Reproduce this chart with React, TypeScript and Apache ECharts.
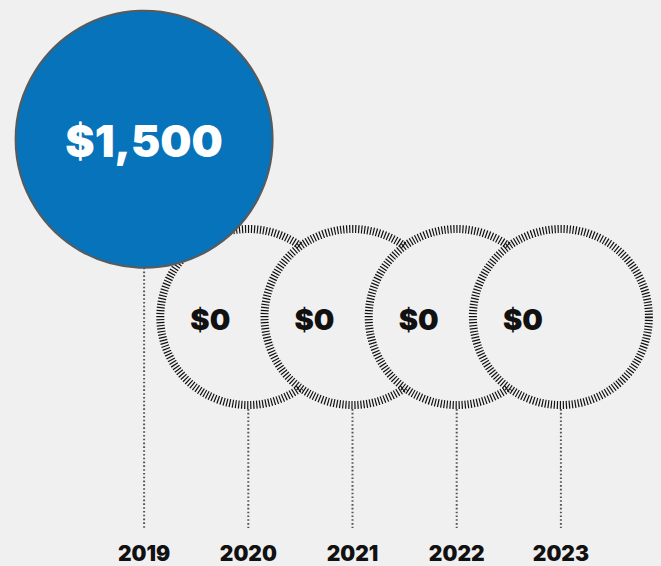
import React, { useEffect, useRef } from "react";
import * as echarts from "echarts";

const years = ["2019", "2020", "2021", "2022", "2023"];
const amounts = [1500, 0, 0, 0, 0];

const Y_MIN = -1780;
const Y_MAX = 2000;
const BG = "#f0f0f0";
const FONT = "Inter";

const sizeFor = (v: number) => (v > 0 ? 257 : 184);
const fmt = (v: number) => "$" + v.toLocaleString("en-US");

export default function App() {
  const ref = useRef<HTMLDivElement>(null);
  useEffect(() => {
    if (!ref.current) return;
    const chart = echarts.init(ref.current, null, { renderer: "svg" });
    chart.setOption({
      animation: false,
      backgroundColor: BG,
      grid: { left: 92, right: 48, top: 80, bottom: 38 },
      xAxis: {
        type: "category",
        data: years,
        boundaryGap: true,
        axisLine: { show: false },
        axisTick: { show: false },
        splitLine: { show: false },
        axisLabel: {
          margin: 15,
          color: "#111",
          fontFamily: FONT,
          fontWeight: 900,
          fontSize: 21,
        },
      },
      yAxis: {
        type: "value",
        min: Y_MIN,
        max: Y_MAX,
        show: false,
        splitLine: { show: false },
      },
      series: [
        {
          type: "custom",
          data: amounts.map((v, i) => [i, v]),
          renderItem: (params: any, api: any) => {
            const idx = api.value(0);
            const v = api.value(1);
            const [cx, cy] = api.coord([idx, v]);
            const base = api.coord([idx, Y_MIN])[1];
            const r = sizeFor(v) / 2;
            const big = v > 0;
            return {
              type: "group",
              children: [
                {
                  type: "line",
                  shape: { x1: cx, y1: cy + r, x2: cx, y2: base },
                  style: { stroke: "#555", lineWidth: 2, lineDash: [1.6, 2.2] },
                },
                {
                  type: "circle",
                  z2: big ? 20 : 2,
                  shape: { cx, cy, r: big ? r : r - 4 },
                  style: big
                    ? { fill: "#0673BA", stroke: "#5a5a5a", lineWidth: 2 }
                    : { fill: BG, stroke: "#111", lineWidth: 8, lineDash: [1.2, 1.8] },
                },
                {
                  type: "text",
                  z2: big ? 21 : 3,
                  x: big ? cx : cx - 38,
                  y: cy + 2,
                  style: {
                    text: fmt(v),
                    fill: big ? "#ffffff" : "#111",
                    fontFamily: FONT,
                    fontWeight: 900,
                    fontSize: big ? 44 : 29,
                    align: "center",
                    verticalAlign: "middle",
                  },
                },
              ],
            };
          },
        },
      ],
    });
    return () => chart.dispose();
  }, []);
  return (
    <div
      ref={ref}
      style={{ position: "absolute", left: 0, top: 0, width: 661, height: 566 }}
    />
  );
}
